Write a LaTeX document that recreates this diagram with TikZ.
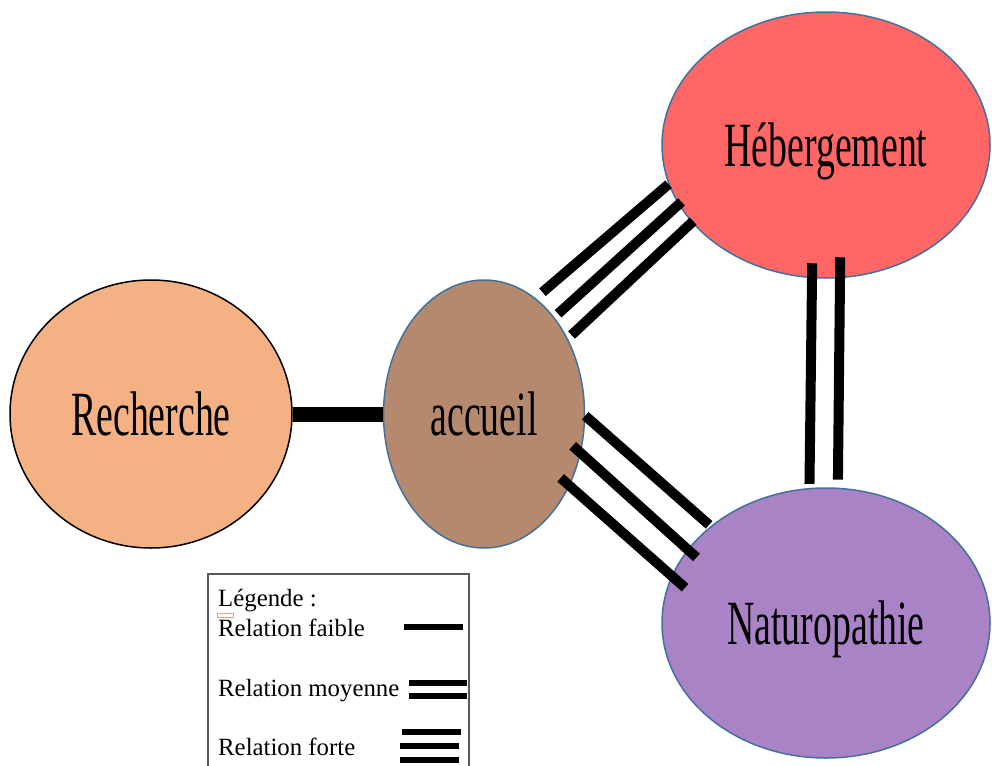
\documentclass[tikz,border=0pt]{standalone}
\usepackage{fontspec}
\setmainfont{Liberation Serif}
\newfontfamily\narrowserif[FakeStretch=0.6]{Liberation Serif}
\usepackage{tikz}
\usetikzlibrary{shapes.geometric}
\definecolor{rechorange}{HTML}{F4B183}
\definecolor{accbrown}{HTML}{B4896D}
\definecolor{hebred}{HTML}{FF6666}
\definecolor{natpurple}{HTML}{A983C6}
\definecolor{edgeblue}{HTML}{41719C}
\definecolor{legendgray}{HTML}{595959}
\definecolor{spellmark}{HTML}{F0A088}

\begin{document}
\begin{tikzpicture}[
    x=1pt, y=-1pt,
    pole/.style={ellipse, draw=edgeblue, line width=1.5pt, inner sep=0pt, text height=42pt, text depth=0pt, font=\narrowserif\fontsize{63}{70}\selectfont},
    bond/.style={line width=10pt},
    weakbond/.style={line width=15pt},
    swatch/.style={line width=6pt},
    legtext/.style={anchor=base west, inner sep=0pt, font=\fontsize{24.8}{30}\selectfont}
]
\useasboundingbox (0,0) rectangle (992,765);
\clip (0,0) rectangle (992,765);

\node[pole, draw=black, fill=rechorange, minimum width=282pt, minimum height=268pt] (rech) at (151,414) {Recherche};
\node[pole, fill=accbrown, minimum width=201pt, minimum height=268pt] (accueil) at (484,414) {accueil};
\node[pole, fill=hebred, minimum width=328pt, minimum height=266pt] (heberg) at (826,145) {Hébergement};
\node[pole, fill=natpurple, minimum width=328pt, minimum height=270pt] (naturo) at (826,623) {Naturopathie};

% relations
\draw[weakbond] (rech.0) -- (accueil.180);
\draw[bond, shorten <=9pt] (accueil.66) -- (heberg.194);
\draw[bond, shorten <=5pt, shorten >=-4pt] (accueil.54) -- (heberg.202.5);
\draw[bond, shorten <=5pt, shorten >=-2pt] (accueil.42) -- (heberg.210.5);
\draw[bond, shorten >=2pt] (accueil.-1) -- (naturo.140);
\draw[bond, shorten <=-11pt, shorten >=-12pt] (accueil.-22.7) -- (naturo.152);
\draw[bond, shorten <=-12pt, shorten >=-18pt] (accueil.-40.3) -- (naturo.163.7);
\draw[bond, shorten <=-15pt, shorten >=4pt] (heberg.-96.2) -- (naturo.97.3);
\draw[bond, shorten <=-21pt, shorten >=8pt] (heberg.-84.7) -- (naturo.85.8);

% legende
\draw[legendgray, line width=1.2pt] (208,574) rectangle (469,790);
\node[legtext] (legtitle) at (218,606) {Légende :};
\node[legtext] (faible) at (218,636) {Relation faible};
\node[legtext] (moyenne) at (218,696) {Relation moyenne};
\node[legtext] (forte) at (218,755) {Relation forte};
\draw[spellmark, line width=0.8pt] (217,613) rectangle (233,617);

\draw[swatch] (404,627) -- (463,627);
\draw[swatch] (409,683) -- (467,683);
\draw[swatch] (409,696) -- (467,696);
\draw[swatch] (402,732) -- (461,732);
\draw[swatch] (400,745.5) -- (459,745.5);
\draw[swatch] (400,760) -- (459,760);

\end{tikzpicture}
\end{document}
